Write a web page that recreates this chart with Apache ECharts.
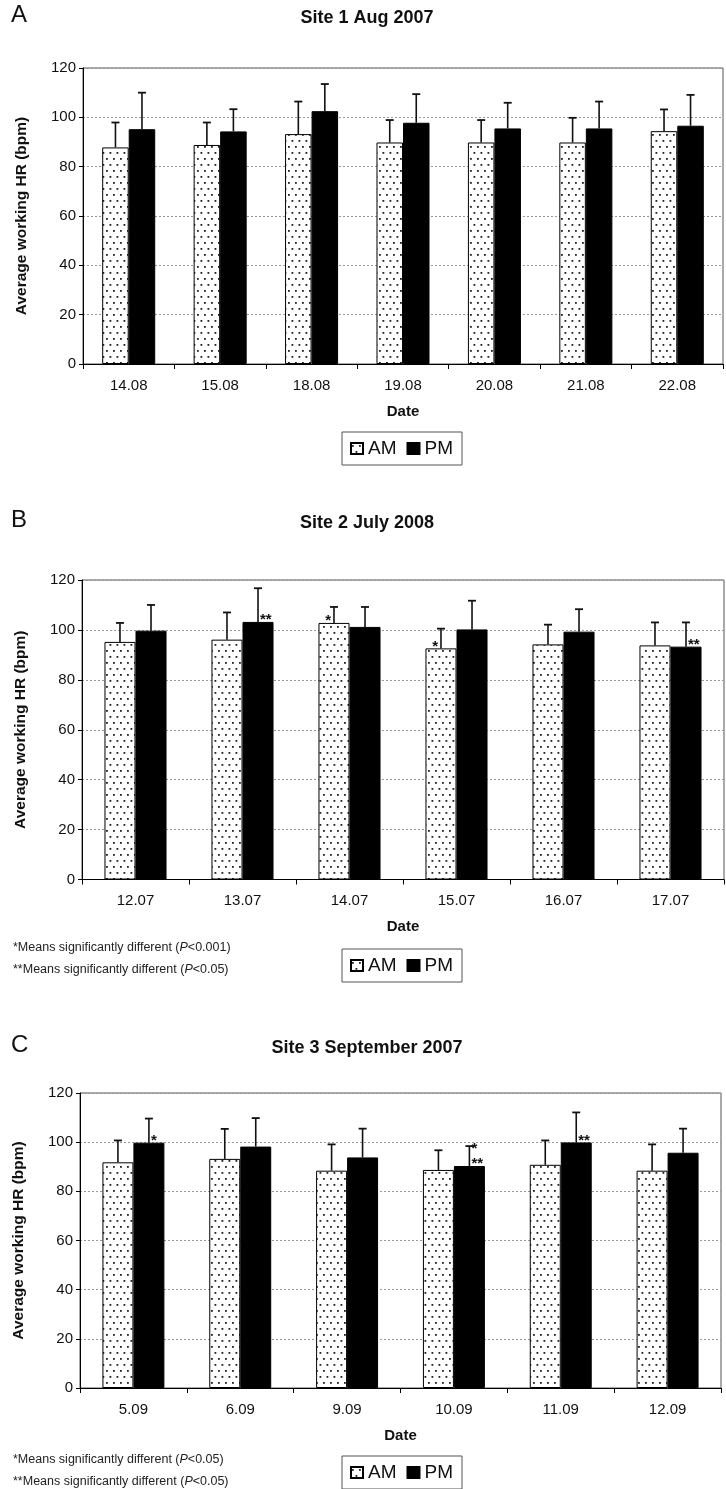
<!DOCTYPE html>
<html>
<head>
<meta charset="utf-8">
<script src="https://cdn.jsdelivr.net/npm/echarts/dist/echarts.min.js"></script>
<style>
html,body{margin:0;padding:0;background:#fff;}
#chart{width:726px;height:1489px;}
</style>
</head>
<body>
<div id="chart"></div>
<script>
// ---------------- DATA ----------------
const seriesNames = ['AM', 'PM'];
const yTicks = [0, 20, 40, 60, 80, 100, 120];

const titleA = 'Site 1 Aug 2007';
const catsA = ['14.08', '15.08', '18.08', '19.08', '20.08', '21.08', '22.08'];
const amA = [87.8, 88.8, 93.2, 89.8, 89.8, 89.8, 94.4];
const amErrA = [10.1, 9.1, 13.2, 9.1, 9.1, 10.0, 8.8];
const pmA = [95.2, 94.3, 102.5, 97.8, 95.5, 95.5, 96.6];
const pmErrA = [14.8, 9.0, 11.0, 11.6, 10.4, 10.9, 12.5];
const amNoteA = ['', '', '', '', '', '', ''];
const pmNoteA = ['', '', '', '', '', '', ''];

const titleB = 'Site 2 July 2008';
const catsB = ['12.07', '13.07', '14.07', '15.07', '16.07', '17.07'];
const amB = [95.2, 96.1, 102.8, 92.6, 94.2, 93.8];
const amErrB = [7.6, 10.9, 6.4, 7.9, 7.9, 9.2];
const pmB = [99.7, 103.2, 101.2, 100.2, 99.3, 93.3];
const pmErrB = [10.3, 13.5, 8.0, 11.5, 9.0, 9.7];
const amNoteB = ['', '', '*', '*', '', ''];
const pmNoteB = ['', '**', '', '', '', '**'];
const footB = ['*Means significantly different ({i|P}<0.001)', '**Means significantly different ({i|P}<0.05)'];

const titleC = 'Site 3 September 2007';
const catsC = ['5.09', '6.09', '9.09', '10.09', '11.09', '12.09'];
const amC = [91.8, 93.2, 88.4, 88.7, 90.8, 88.4];
const amErrC = [8.9, 12.2, 10.7, 8.0, 9.9, 10.7];
const pmC = [99.8, 98.2, 93.8, 90.3, 99.9, 95.7];
const pmErrC = [9.8, 11.6, 11.7, 8.1, 12.2, 9.8];
const amNoteC = ['', '', '', '', '', ''];
const pmNoteC = ['*', '', '', '*\n**', '**', ''];
const footC = ['*Means significantly different ({i|P}<0.05)', '**Means significantly different ({i|P}<0.05)'];

const panelLetters = ['A', 'B', 'C'];
const xName = 'Date';
const yName = 'Average working HR (bpm)';

// ---------------- LAYOUT / STYLE ----------------
const FONT = "'Liberation Sans', Arial, sans-serif";
const GAP = 0.42;
const panels = [
  {letter: panelLetters[0], title: titleA, cats: catsA, am: amA, amErr: amErrA, pm: pmA, pmErr: pmErrA, amNote: amNoteA, pmNote: pmNoteA, foot: null,
   grid: {left: 83, right: 3, top: 68, height: 296}, headY: 17, legendTop: 432, footY: 0},
  {letter: panelLetters[1], title: titleB, cats: catsB, am: amB, amErr: amErrB, pm: pmB, pmErr: pmErrB, amNote: amNoteB, pmNote: pmNoteB, foot: footB,
   grid: {left: 82, right: 2, top: 580, height: 299.5}, headY: 522, legendTop: 949, footY: 948},
  {letter: panelLetters[2], title: titleC, cats: catsC, am: amC, amErr: amErrC, pm: pmC, pmErr: pmErrC, amNote: amNoteC, pmNote: pmNoteC, foot: footC,
   grid: {left: 80, right: 5, top: 1093, height: 295}, headY: 1047, legendTop: 1456, footY: 1460}
];

function makeDots() {
  const c = document.createElement('canvas');
  c.width = 7; c.height = 12;
  const g = c.getContext('2d');
  g.fillStyle = '#fff'; g.fillRect(0, 0, 7, 12);
  g.fillStyle = '#222';
  g.fillRect(1, 2, 1.8, 1.8);
  g.fillRect(4.5, 8, 1.8, 1.8);
  return c;
}
const dotPattern = {image: makeDots(), repeat: 'repeat'};

function errRender(vals, errs, notes, sign) {
  return function (params, api) {
    const i = api.value(0);
    const v = vals[i], e = errs[i];
    const band = api.size([1, 0])[0];
    const off = sign * band * (1 - GAP) / 4;
    const b = api.coord([i, v]);
    const t = api.coord([i, v + e]);
    const x = b[0] + off;
    const children = [
      {type: 'line', shape: {x1: x, y1: b[1], x2: x, y2: t[1]}, style: {stroke: '#111', lineWidth: 1.6}},
      {type: 'line', shape: {x1: x - 4, y1: t[1], x2: x + 4, y2: t[1]}, style: {stroke: '#111', lineWidth: 1.8}}
    ];
    const note = notes[i];
    if (note) {
      const lines = note.split('\n');
      lines.forEach(function (ln, k) {
        const fromBottom = lines.length - 1 - k;
        children.push({
          type: 'text',
          style: {
            text: ln, x: sign > 0 ? x + 2 : x - 3, y: b[1] - 2 - fromBottom * 15,
            fill: '#111', font: 'bold 15px ' + FONT,
            textAlign: sign > 0 ? 'left' : 'right', textVerticalAlign: 'middle'
          }
        });
      });
    }
    return {type: 'group', children: children};
  };
}

const grids = [], xAxes = [], yAxes = [], series = [], legends = [], graphics = [];
panels.forEach(function (p, k) {
  grids.push(Object.assign({show: true, borderColor: '#555', borderWidth: 1, backgroundColor: 'transparent'}, p.grid));
  xAxes.push({
    type: 'category', gridIndex: k, data: p.cats,
    name: xName, nameLocation: 'middle', nameGap: 40,
    nameTextStyle: {fontFamily: FONT, fontWeight: 'bold', fontSize: 15, color: '#111'},
    axisLine: {lineStyle: {color: '#000', width: 1}},
    axisTick: {show: true, length: 5, lineStyle: {color: '#000'}},
    axisLabel: {fontFamily: FONT, fontSize: 15, color: '#111', margin: 14},
    splitLine: {show: false}
  });
  yAxes.push({
    type: 'value', gridIndex: k, min: yTicks[0], max: yTicks[yTicks.length - 1], interval: yTicks[1] - yTicks[0],
    name: yName, nameLocation: 'middle', nameGap: 53,
    nameTextStyle: {fontFamily: FONT, fontWeight: 'bold', fontSize: 15.5, color: '#111'},
    axisLine: {show: true, lineStyle: {color: '#000', width: 1}},
    axisTick: {show: true, length: 4, lineStyle: {color: '#000'}},
    axisLabel: {fontFamily: FONT, fontSize: 15, color: '#111', margin: 7},
    splitLine: {show: true, lineStyle: {color: '#999', type: [2, 2], width: 1}}
  });
  series.push({
    name: seriesNames[0], type: 'bar', xAxisIndex: k, yAxisIndex: k, data: p.am,
    barGap: '0%', barCategoryGap: (GAP * 100) + '%',
    itemStyle: {color: dotPattern, borderColor: '#000', borderWidth: 1}, z: 2
  });
  series.push({
    name: seriesNames[1], type: 'bar', xAxisIndex: k, yAxisIndex: k, data: p.pm,
    barGap: '0%', barCategoryGap: (GAP * 100) + '%',
    itemStyle: {color: '#000', borderColor: '#000', borderWidth: 1}, z: 2
  });
  series.push({
    name: 'errAM' + k, type: 'custom', xAxisIndex: k, yAxisIndex: k, z: 5,
    data: p.am.map(function (v, i) { return [i, v]; }),
    renderItem: errRender(p.am, p.amErr, p.amNote, -1)
  });
  series.push({
    name: 'errPM' + k, type: 'custom', xAxisIndex: k, yAxisIndex: k, z: 5,
    data: p.pm.map(function (v, i) { return [i, v]; }),
    renderItem: errRender(p.pm, p.pmErr, p.pmNote, 1)
  });
  legends.push({
    data: seriesNames, left: 342, top: p.legendTop, orient: 'horizontal', icon: 'rect',
    itemWidth: 12, itemHeight: 11, itemGap: 10, padding: [7, 9, 7, 8],
    borderColor: '#555', borderWidth: 1, selectedMode: false,
    textStyle: {fontFamily: FONT, fontSize: 19, color: '#111'}
  });
  graphics.push({type: 'text', left: 11, top: p.headY - 14,
    style: {text: p.letter, font: '24px ' + FONT, fill: '#111'}});
  graphics.push({type: 'text', x: 367, y: p.headY + 1,
    style: {text: p.title, font: 'bold 18px ' + FONT, fill: '#111', textAlign: 'center', textVerticalAlign: 'middle'}});
  if (p.foot) {
    p.foot.forEach(function (t, j) {
      graphics.push({type: 'text', x: 13, y: p.footY + j * 22,
        style: {text: t, font: '12.5px ' + FONT, fill: '#222', textVerticalAlign: 'middle',
          rich: {i: {fontStyle: 'italic', fontSize: 12.5, fontFamily: FONT, fill: '#222'}}}});
    });
  }
});

const chart = echarts.init(document.getElementById('chart'), null, {renderer: 'canvas'});
chart.setOption({
  animation: false,
  backgroundColor: '#fff',
  grid: grids, xAxis: xAxes, yAxis: yAxes, series: series, legend: legends,
  graphic: graphics
});
</script>
</body>
</html>
